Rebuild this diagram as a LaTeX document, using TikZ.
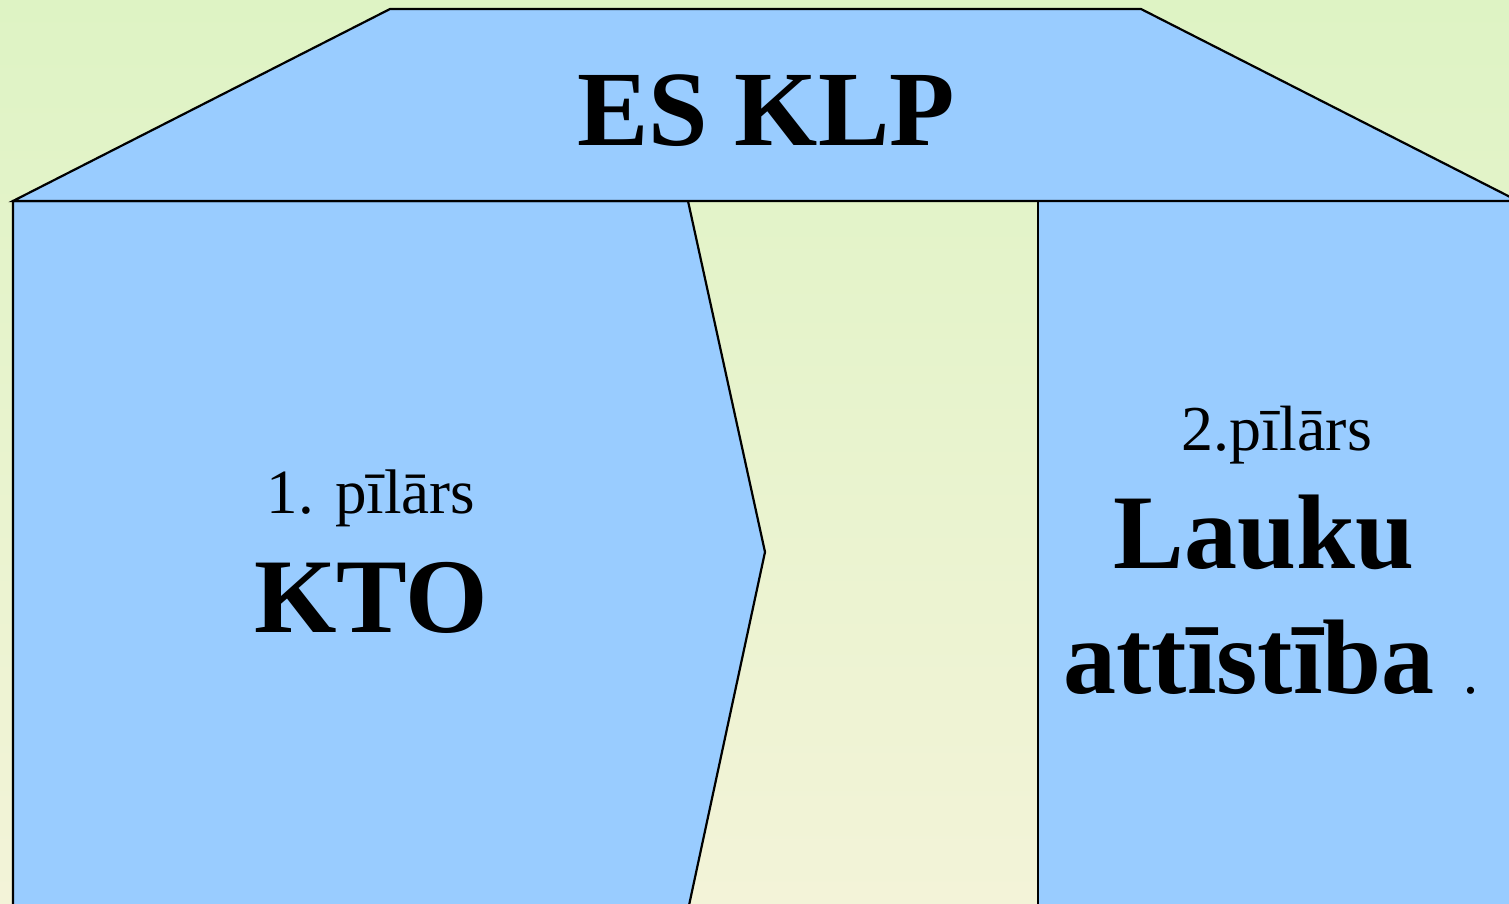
\documentclass[tikz,border=0pt]{standalone}
\usepackage{fontspec}
\setmainfont{Liberation Serif}
\definecolor{bgtop}{RGB}{222,243,196}
\definecolor{bgbot}{RGB}{243,243,216}
\definecolor{pillar}{RGB}{153,204,255}
\tikzset{
  shapeline/.style={draw=black, line width=2.2pt, fill=pillar, line join=miter},
  lbl/.style={anchor=base, inner sep=0pt, text=black},
}
\begin{document}
\begin{tikzpicture}[x=1pt,y=-1pt]
\useasboundingbox (0,0) rectangle (1509,903);
\shade[top color=bgtop, bottom color=bgbot] (0,0) rectangle (1509,903);
% left pillar
\draw[shapeline] (13,910) -- (13,201) -- (688,201) -- (765,552) -- (688,910);
% right pillar
\fill[pillar] (1038,201) rectangle (1520,910);
\draw[shapeline] (1038,910) -- (1038,201) -- (1520,201);
% roof
\draw[shapeline] (13,201) -- (390,9) -- (1141,9) -- (1518,201) -- cycle;
\node[lbl, font=\bfseries\fontsize{107}{107}\selectfont] (roof) at (766,145) {ES KLP};
\node[lbl, font=\fontsize{63}{63}\selectfont] (p1) at (371,513) {1. pīlārs};
\node[lbl, font=\bfseries\fontsize{106}{106}\selectfont] (kto) at (371,632) {KTO};
\node[lbl, font=\fontsize{64}{64}\selectfont] (p2) at (1277,450) {2.pīlārs};
\node[lbl, font=\bfseries\fontsize{106}{106}\selectfont] (lauku) at (1264,568) {Lauku};
\node[lbl, font=\bfseries\fontsize{106}{106}\selectfont] (att) at (1249,693) {attīstība};
\node[lbl, font=\fontsize{60}{60}\selectfont] (dot) at (1471,693) {.};
\end{tikzpicture}
\end{document}
